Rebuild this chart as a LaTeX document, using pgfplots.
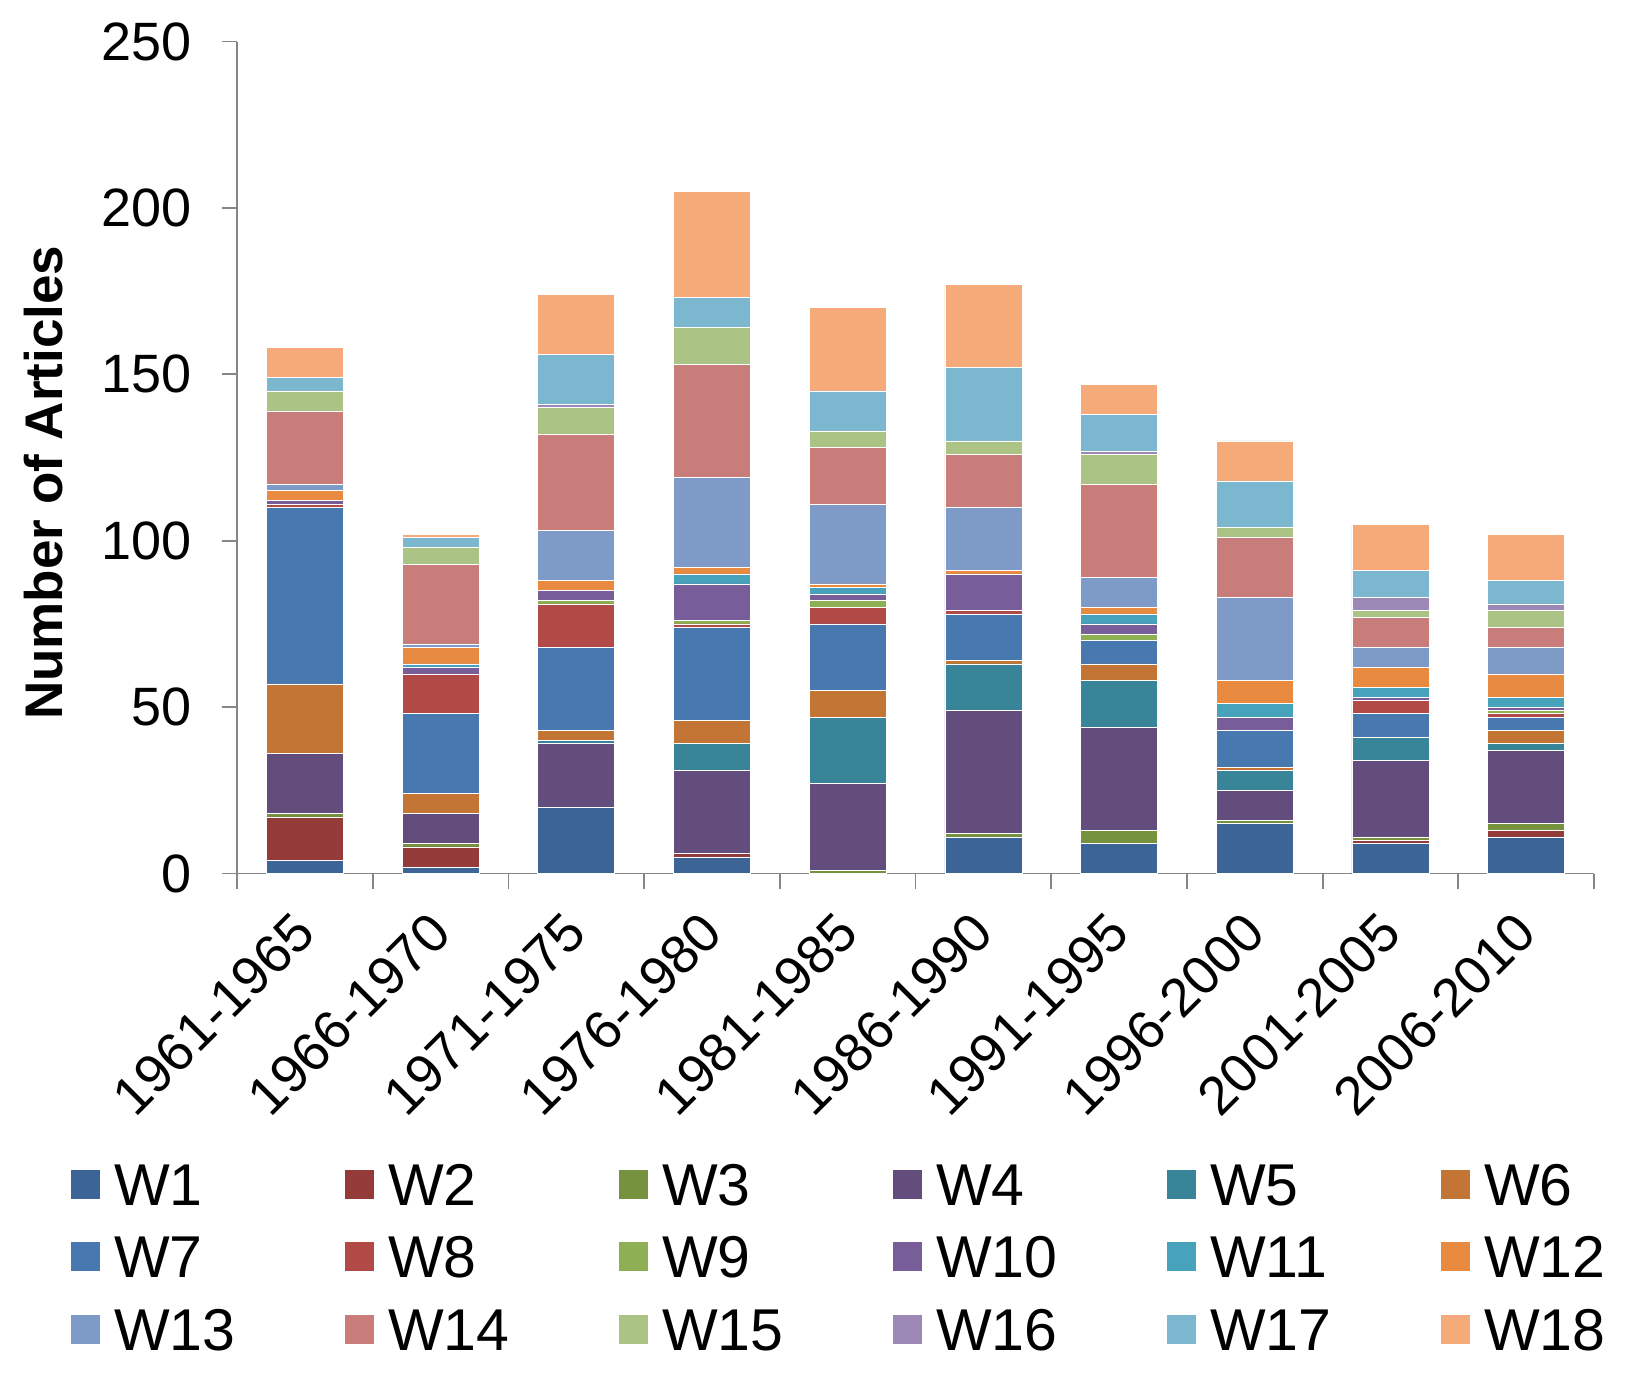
\documentclass[border=0pt]{standalone}
\usepackage{fontspec}
\setmainfont{Liberation Sans}
\usepackage{pgfplots}
\usepackage{pgfplotstable}
\pgfplotsset{compat=1.18}

\pgfplotstableread{
x W1 W2 W3 W4 W5 W6 W7 W8 W9 W10 W11 W12 W13 W14 W15 W16 W17 W18
0 4 13 1 18 0 21 53 1 0 1 0 3 2 22 6 0 4 9
1 2 6 1 9 0 6 24 12 0 2 1 5 1 24 5 0 3 1
2 20 0 0 19 1 3 25 13 1 3 0 3 15 29 8 1 15 18
3 5 1 0 25 8 7 28 1 1 11 3 2 27 34 11 0 9 32
4 0 0 1 26 20 8 20 5 2 2 2 1 24 17 5 0 12 25
5 11 0 1 37 14 1 14 1 0 11 0 1 19 16 4 0 22 25
6 9 0 4 31 14 5 7 0 2 3 3 2 9 28 9 1 11 9
7 15 0 1 9 6 1 11 0 0 4 4 7 25 18 3 0 14 12
8 9 1 1 23 7 0 7 4 0 1 3 6 6 9 2 4 8 14
9 11 2 2 22 2 4 4 1 1 1 3 7 8 6 5 2 7 14
}\data

\definecolor{c1}{HTML}{3C6496}
\definecolor{c2}{HTML}{943B3A}
\definecolor{c3}{HTML}{77923F}
\definecolor{c4}{HTML}{624D7C}
\definecolor{c5}{HTML}{38859A}
\definecolor{c6}{HTML}{C27535}
\definecolor{c7}{HTML}{4878B0}
\definecolor{c8}{HTML}{B14A47}
\definecolor{c9}{HTML}{8EAF54}
\definecolor{c10}{HTML}{775E99}
\definecolor{c11}{HTML}{47A3BC}
\definecolor{c12}{HTML}{E88B40}
\definecolor{c13}{HTML}{7E9AC6}
\definecolor{c14}{HTML}{C97D7A}
\definecolor{c15}{HTML}{ABC486}
\definecolor{c16}{HTML}{9B88B4}
\definecolor{c17}{HTML}{7BB8CF}
\definecolor{c18}{HTML}{F6AA79}
\definecolor{axgray}{HTML}{868686}

\pgfplotsset{
  sq legend/.style={legend image code/.code={\fill[##1,draw=none] (0pt,3.3pt) rectangle (14.5pt,17.8pt);}},
  seg/.style={fill=#1, draw=white, line width=0.3pt, sq legend},
}

\begin{document}
\begin{tikzpicture}
\useasboundingbox (-118.5pt,-249.65pt) rectangle (695pt,436.75pt);
\begin{axis}[
  at={(0,0)}, anchor=south west,
  width=678.5pt, height=416pt, scale only axis,
  ybar stacked, bar width=38.5pt,
  xmin=-0.5, xmax=9.5, ymin=0, ymax=250,
  axis x line*=bottom, axis y line*=left,
  axis line style={draw=axgray, line width=0.9pt},
  tick align=outside,
  major tick length=7.7pt,
  tick style={draw=axgray, line width=0.9pt},
  xtick={-0.5,0.5,...,9.5},
  xticklabels={},
  extra x ticks={0,1,...,9},
  extra x tick labels={1961-1965,1966-1970,1971-1975,1976-1980,1981-1985,1986-1990,1991-1995,1996-2000,2001-2005,2006-2010},
  extra x tick style={major tick length=0pt},
  ytick={0,50,...,250},
  /pgf/number format/assume math mode=true,
  ticklabel style={font=\fontsize{27}{32}\selectfont},
  yticklabel style={anchor=east, inner sep=0pt, xshift=-15pt},
  xticklabel style={yshift=-24.5pt, rotate=45, anchor=east, inner sep=0pt},
  ylabel={Number of Articles},
  ylabel style={font=\bfseries\fontsize{26.5}{30}\selectfont, at={(axis description cs:-0.1426,0.4696)}, anchor=center},
  legend columns=6,
  legend style={at={(axis description cs:-0.1226,-0.3483)}, anchor=north west,
    draw=none, fill=none, inner sep=0pt, outer sep=0pt,
    font=\fontsize{29.5}{34}\selectfont, row sep=9.3pt,
    cells={anchor=base west},
    nodes={text width=70pt, text height=21pt, text depth=6pt, inner sep=0pt, align=left},
    /tikz/every odd column/.style={column sep=7.3pt},
    /tikz/every even column/.style={column sep=45.2pt}},
]
\addplot[seg=c1] table[x=x,y=W1]{\data};
\addplot[seg=c2] table[x=x,y=W2]{\data};
\addplot[seg=c3] table[x=x,y=W3]{\data};
\addplot[seg=c4] table[x=x,y=W4]{\data};
\addplot[seg=c5] table[x=x,y=W5]{\data};
\addplot[seg=c6] table[x=x,y=W6]{\data};
\addplot[seg=c7] table[x=x,y=W7]{\data};
\addplot[seg=c8] table[x=x,y=W8]{\data};
\addplot[seg=c9] table[x=x,y=W9]{\data};
\addplot[seg=c10] table[x=x,y=W10]{\data};
\addplot[seg=c11] table[x=x,y=W11]{\data};
\addplot[seg=c12] table[x=x,y=W12]{\data};
\addplot[seg=c13] table[x=x,y=W13]{\data};
\addplot[seg=c14] table[x=x,y=W14]{\data};
\addplot[seg=c15] table[x=x,y=W15]{\data};
\addplot[seg=c16] table[x=x,y=W16]{\data};
\addplot[seg=c17] table[x=x,y=W17]{\data};
\addplot[seg=c18] table[x=x,y=W18]{\data};
\legend{W1,W2,W3,W4,W5,W6,W7,W8,W9,W10,W11,W12,W13,W14,W15,W16,W17,W18}
\end{axis}
\end{tikzpicture}
\end{document}
